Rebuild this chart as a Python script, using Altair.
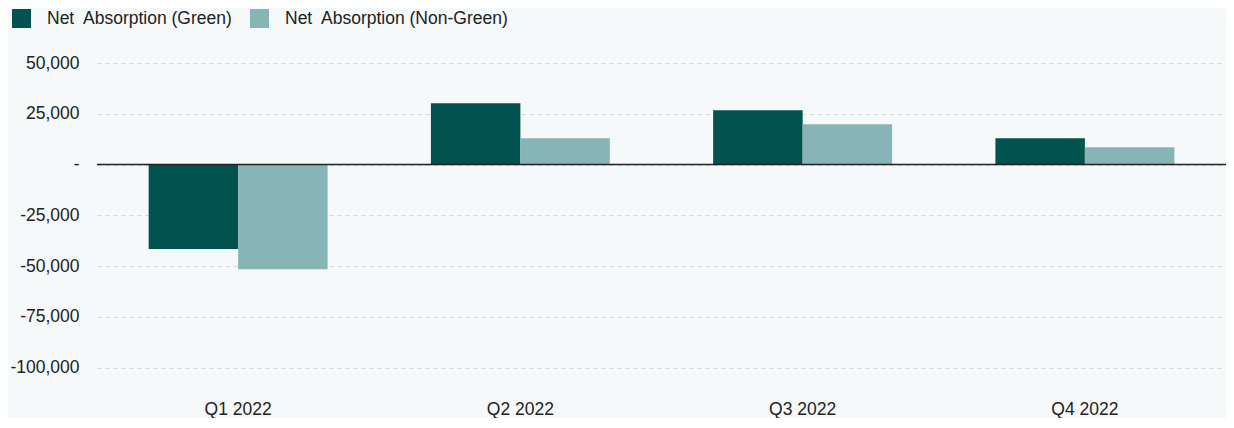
import altair as alt
import pandas as pd

quarters = ["Q1 2022", "Q2 2022", "Q3 2022", "Q4 2022"]
series_names = ["Net\u00a0 Absorption (Green)", "Net\u00a0 Absorption (Non-Green)"]
green = [-41600, 30200, 26800, 13000]
non_green = [-51500, 13000, 19900, 8500]
colors = ["#02524f", "#87b5b5"]
y_ticks = [50000, 25000, 0, -25000, -50000, -75000, -100000]

rows = []
for q, g, n in zip(quarters, green, non_green):
    rows.append({"quarter": q, "series": series_names[0], "value": g})
    rows.append({"quarter": q, "series": series_names[1], "value": n})
df = pd.DataFrame(rows)
zero_df = pd.DataFrame({"y": [0]})

font = "Liberation Sans"
fs = 17.5

bars = alt.Chart(df).mark_bar().encode(
    x=alt.X("quarter:N", sort=quarters,
            scale=alt.Scale(paddingInner=0.366, paddingOuter=0.183),
            axis=alt.Axis(title=None, labelAngle=0, domain=False, ticks=False,
                          labelFontSize=fs, labelColor="#222", labelPadding=12,
                          labelFont=font)),
    xOffset=alt.XOffset("series:N", sort=series_names,
                        scale=alt.Scale(paddingInner=0, paddingOuter=0)),
    y=alt.Y("value:Q",
            scale=alt.Scale(domain=[-110000, 50000], nice=False, zero=True),
            axis=alt.Axis(title=None, values=y_ticks, domain=False, ticks=False,
                          grid=True, gridDash=[4, 4], gridColor="#d4d6d6",
                          labelFontSize=fs, labelColor="#222", labelPadding=18,
                          labelFont=font,
                          labelExpr="datum.value == 0 ? '-' : replace(format(datum.value, ','), '\u2212', '-')")),
    color=alt.Color("series:N", sort=series_names,
                    scale=alt.Scale(domain=series_names, range=colors),
                    legend=alt.Legend(orient="none", legendX=-85, legendY=-54,
                                      direction="horizontal", title=None,
                                      symbolType="square", symbolSize=361,
                                      symbolStrokeWidth=0, symbolOpacity=1,
                                      labelFontSize=fs, labelColor="#222",
                                      labelFont=font, labelOffset=16,
                                      columnPadding=17, labelLimit=400)),
)

zero_line = alt.Chart(zero_df).mark_rule(color="#222", strokeWidth=1.5).encode(
    y=alt.Y("y:Q")
)

chart = alt.layer(bars, zero_line).properties(
    width=1129,
    height=325,
    autosize=alt.AutoSizeParams(type="none"),
    padding={"left": 89, "top": 55, "right": 0, "bottom": 30},
    background="#f5f9fa",
).configure_view(stroke=None)

chart.save("out.html", embed_options={"renderer": "svg", "actions": False})
